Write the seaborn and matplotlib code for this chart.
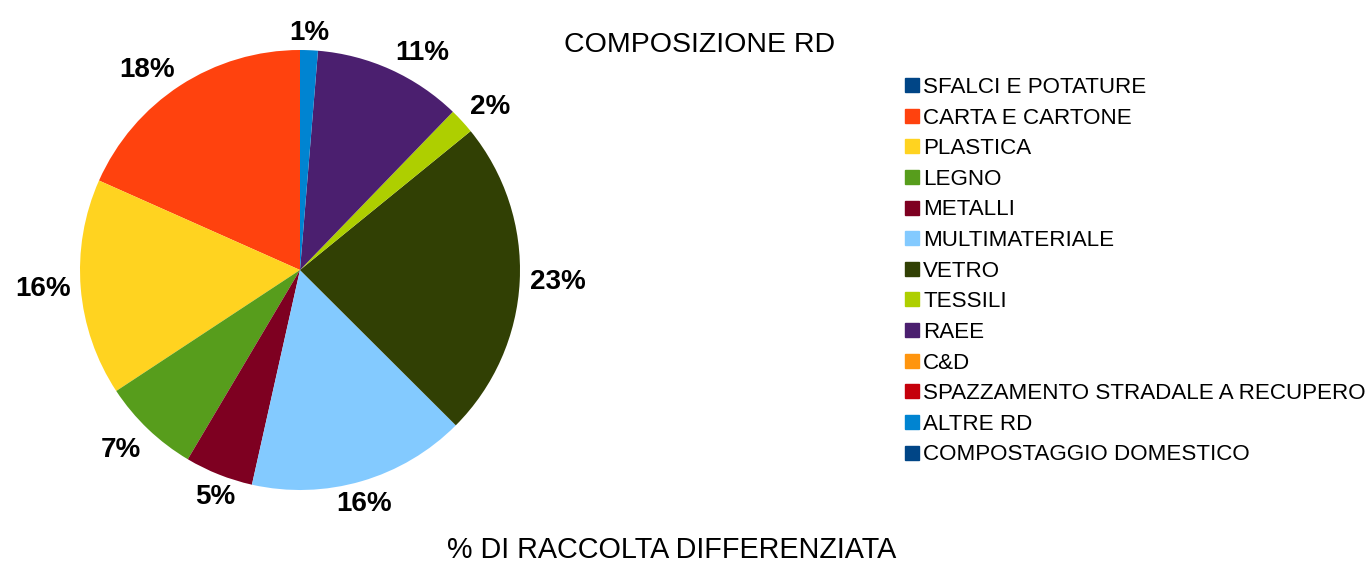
import matplotlib
matplotlib.use("Agg")
import numpy as np
import matplotlib.pyplot as plt
import seaborn as sns
from matplotlib.lines import Line2D

sns.set_theme(style="white")
plt.rcParams['font.family'] = ['Liberation Sans', 'DejaVu Sans']
plt.rcParams['text.color'] = 'black'

categories = ["SFALCI E POTATURE", "CARTA E CARTONE", "PLASTICA", "LEGNO", "METALLI",
              "MULTIMATERIALE", "VETRO", "TESSILI", "RAEE", "C&D",
              "SPAZZAMENTO STRADALE A RECUPERO", "ALTRE RD", "COMPOSTAGGIO DOMESTICO"]
values = [0.0, 18.3, 15.9, 7.2, 5.0, 16.0, 23.3, 1.9, 10.9, 0.0, 0.0, 1.3, 0.0]
colors = ["#004586", "#ff420e", "#ffd320", "#579d1c", "#7e0021", "#83caff",
          "#314004", "#aecf00", "#4b1f6f", "#ff950e", "#c5000b", "#0084d1", "#004586"]
title = "COMPOSIZIONE RD"
xlabel = "% DI RACCOLTA DIFFERENZIATA"

W, H = 1369, 562
fig = plt.figure(figsize=(W / 100, H / 100), dpi=100)
fig.patch.set_facecolor("white")

cx, cy, r = 300, 270, 220
ax = fig.add_axes([(cx - r) / W, (H - cy - r) / H, 2 * r / W, 2 * r / H])

wedges, texts, autotexts = ax.pie(
    values, colors=colors, startangle=90, counterclock=True,
    autopct=lambda p: f"{p:.0f}%" if p > 0.5 else "",
    pctdistance=1.1, wedgeprops=dict(linewidth=0),
    textprops=dict(fontsize=20, fontweight="bold", color="black"))
ax.set_xlim(-1, 1)
ax.set_ylim(-1, 1)
ax.set_aspect("auto")
ax.axis("off")

# label placement: anchor just outside the rim, aligned by octant
label_r = 1.047
for w, t in zip(wedges, autotexts):
    ang = np.deg2rad((w.theta1 + w.theta2) / 2)
    c, s = np.cos(ang), np.sin(ang)
    t.set_position((label_r * c, label_r * s))
    lim = np.sin(np.deg2rad(22.5))
    t.set_ha("center" if abs(c) < lim else ("left" if c > 0 else "right"))
    t.set_va("center" if abs(s) < lim else ("baseline" if s > 0 else "top"))

fig.text(700 / W, 1 - 45 / H, title, ha="center", va="center", fontsize=20.5, color="black")
fig.text(672 / W, 1 - 550 / H, xlabel, ha="center", va="center", fontsize=20.7, color="black")

handles = [Line2D([], [], marker="s", linestyle="", color=c, markersize=10.5) for c in colors]
fig.legend(handles, categories, loc="upper left", bbox_to_anchor=(904 / W, 1 - 77 / H),
           frameon=False, fontsize=16.1, handlelength=0.7, handletextpad=0.15,
           labelspacing=0.43, borderaxespad=0, borderpad=0, labelcolor="black")

fig.savefig("out.png", dpi=100, facecolor="white")
